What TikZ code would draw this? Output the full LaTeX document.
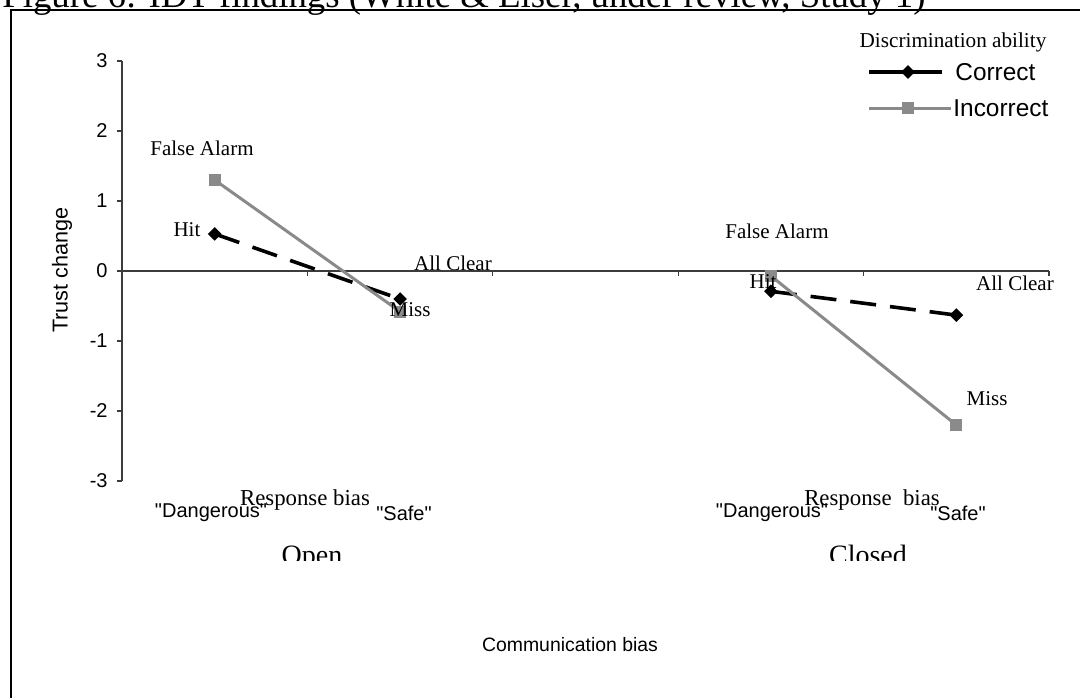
\documentclass[tikz,border=0pt]{standalone}
\usepackage{fontspec}
\setmainfont{Liberation Serif}
\setsansfont{Liberation Sans}
\newfontfamily\catfont{Liberation Sans}
\usetikzlibrary{shapes.geometric}

\definecolor{incgray}{HTML}{8A8A8A}
\definecolor{axisgray}{HTML}{3C3C3C}
\newcommand{\fsize}[1]{\fontsize{#1}{#1}\selectfont}

\begin{document}
\begin{tikzpicture}[
    x=0.5pt, y=-0.5pt,
    every node/.style = {inner sep=0pt},
    serif_lbl/.style = {font=\fsize{10.5}},
    sans_tick/.style = {font=\sffamily\fsize{10}, anchor=east},
    cat_lbl/.style = {font=\catfont\fsize{10}},
    bias_lbl/.style = {font=\fsize{11.4}},
    group_lbl/.style = {font=\fsize{14}, anchor=base},
    axis_line/.style = {axisgray, line width=0.6pt},
    corr/.style = {black, line width=1.8pt, dash pattern=on 13pt off 7pt},
    incorr/.style = {incgray, line width=1.5pt},
    corr_mark/.style = {diamond, fill=black, minimum width=7pt, minimum height=7pt},
    incorr_mark/.style = {rectangle, fill=incgray, minimum size=6pt},
]

\useasboundingbox (0,0) rectangle (1080,697);
\clip (0,0) rectangle (1080,697);

% Rahmen und Titel
\draw[line width=1pt] (10.5,9.5) rectangle (1200,800);
\node[anchor=base west, font=\fsize{18.4}] (title) at (2,7)
    {Figure 6: IDT findings (White \& Eiser, under review, Study 1)};

% Achsen und Daten
\begin{scope}[shift={(122,271)}, x=92.7pt, y=35pt]
    \draw[axis_line] (0,3) -- (0,-3);
    \draw[axis_line] (0,0) -- (5,0);
    \foreach \v in {-3,...,3} {
        \draw[axis_line] (0,\v) -- ++(-2.5pt,0);
        \node[sans_tick] (ytick\v) at ([xshift=-7pt]0,\v) {\v};
    }
    \foreach \k in {1,...,5}
        \draw[axis_line] (\k,0) -- ++(0,-2.5pt);

    % Datenpunkte
    \coordinate (corr_open_hit)    at (0.5,0.53);
    \coordinate (corr_open_miss)   at (1.5,-0.40);
    \coordinate (corr_closed_hit)  at (3.5,-0.29);
    \coordinate (corr_closed_miss) at (4.5,-0.63);
    \coordinate (inc_open_fa)      at (0.5,1.30);
    \coordinate (inc_open_ac)      at (1.5,-0.58);
    \coordinate (inc_closed_fa)    at (3.5,-0.07);
    \coordinate (inc_closed_ac)    at (4.5,-2.20);
\end{scope}

% 1. Correct (schwarz, gestrichelt)
\draw[corr] (corr_open_hit) -- (corr_open_miss);
\draw[corr] (corr_closed_hit) -- (corr_closed_miss);
\foreach \p in {corr_open_hit, corr_open_miss, corr_closed_hit, corr_closed_miss}
    \node[corr_mark] (m_\p) at (\p) {};

% 2. Incorrect (grau)
\draw[incorr] (inc_open_fa) -- (inc_open_ac);
\draw[incorr] (inc_closed_fa) -- (inc_closed_ac);
\foreach \p in {inc_open_fa, inc_open_ac, inc_closed_fa, inc_closed_ac}
    \node[incorr_mark] (m_\p) at (\p) {};

% Datenbeschriftungen
\node[serif_lbl] (lbl_open_fa)   at (202,148) {False Alarm};
\node[serif_lbl] (lbl_open_hit)  at (187,230) {Hit};
\node[serif_lbl] (lbl_open_ac)   at (453,263) {All Clear};
\node[serif_lbl] (lbl_open_miss) at (410,310) {Miss};
\node[serif_lbl] (lbl_cl_fa)     at (777,231) {False Alarm};
\node[serif_lbl] (lbl_cl_hit)    at (763,282) {Hit};
\node[serif_lbl] (lbl_cl_ac)     at (1015,283) {All Clear};
\node[serif_lbl] (lbl_cl_miss)   at (987,399) {Miss};

% Legende
\node[font=\fsize{10.6}] (leg_title) at (953,42) {Discrimination ability};
\coordinate (leg_c_a) at (869,72);
\coordinate (leg_c_b) at (942,72);
\draw[black, line width=1.8pt] (leg_c_a) -- (leg_c_b);
\node[corr_mark] (leg_c_mark) at (908,72) {};
\node[anchor=west, font=\sffamily\fsize{12.2}] (leg_c_txt) at (955,72) {Correct};
\coordinate (leg_i_a) at (869,108);
\coordinate (leg_i_b) at (951,108);
\draw[incorr] (leg_i_a) -- (leg_i_b);
\node[incorr_mark] (leg_i_mark) at (908,108) {};
\node[anchor=west, font=\sffamily\fsize{12.2}] (leg_i_txt) at (953,108) {Incorrect};

% Achsentitel
\node[rotate=90, font=\sffamily\fsize{10.8}] (ylabel) at (62,270) {Trust change};
\node[font=\sffamily\fsize{9.7}] (xlabel) at (570,645) {Communication bias};

% Kategorien
\node[bias_lbl] (bias_open) at (305,500) {Response bias};
\node[cat_lbl] (dang_open)  at (211,513) {"Dangerous"};
\node[cat_lbl] (safe_open)  at (404,513) {"Safe"};
\node[bias_lbl] (bias_cl)   at (872,500) {Response\ \ bias};
\node[cat_lbl] (dang_cl)    at (772,513) {"Dangerous"};
\node[cat_lbl] (safe_cl)    at (958,513) {"Safe"};

\begin{scope}
    \clip (0,0) rectangle (1080,560);
    \node[group_lbl] (grp_open)   at (312,564) {Open};
    \node[group_lbl] (grp_closed) at (868,564) {Closed};
\end{scope}

\end{tikzpicture}
\end{document}
